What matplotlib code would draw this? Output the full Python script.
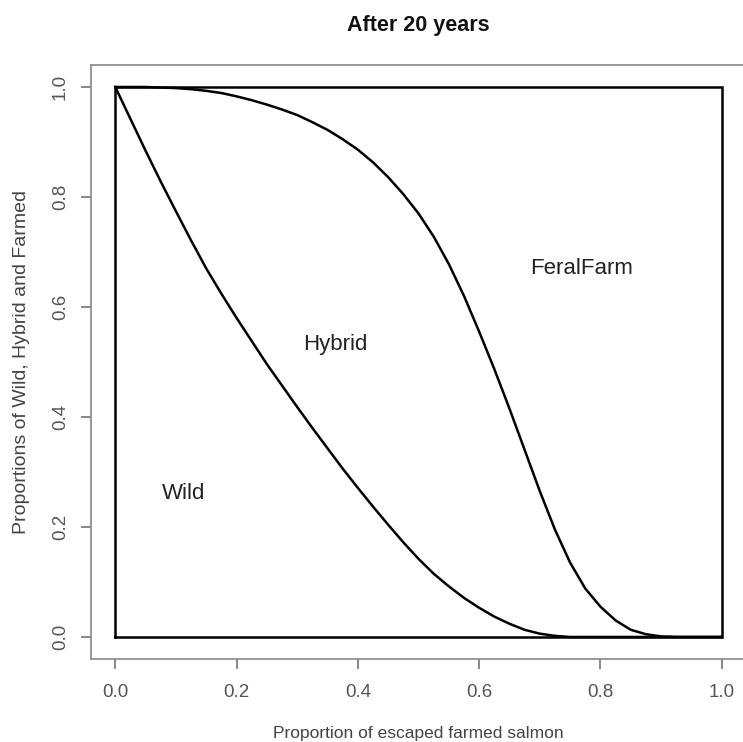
import matplotlib
matplotlib.use("Agg")
import matplotlib.pyplot as plt

# Data
x_vals = [0.0, 0.025, 0.05, 0.075, 0.10, 0.125, 0.15, 0.175, 0.20, 0.225, 0.25,
          0.275, 0.30, 0.325, 0.35, 0.375, 0.40, 0.425, 0.45, 0.475, 0.50,
          0.525, 0.55, 0.575, 0.60, 0.625, 0.65, 0.675, 0.70, 0.725, 0.75,
          0.775, 0.80, 0.825, 0.85, 0.875, 0.90, 0.925, 0.95, 1.0]
wild_upper = [1.0, 0.942, 0.884, 0.828, 0.774, 0.721, 0.670, 0.624, 0.580, 0.538, 0.496,
              0.457, 0.418, 0.380, 0.343, 0.306, 0.271, 0.237, 0.204, 0.172, 0.142,
              0.115, 0.092, 0.071, 0.053, 0.037, 0.024, 0.013, 0.006, 0.002, 0.0,
              0.0, 0.0, 0.0, 0.0, 0.0, 0.0, 0.0, 0.0, 0.0]
hybrid_upper = [1.0, 1.0, 1.0, 0.999, 0.998, 0.996, 0.993, 0.989, 0.983, 0.976, 0.968,
                0.959, 0.949, 0.936, 0.922, 0.905, 0.886, 0.863, 0.836, 0.805, 0.770,
                0.728, 0.678, 0.620, 0.555, 0.487, 0.415, 0.340, 0.265, 0.195, 0.135,
                0.088, 0.055, 0.030, 0.013, 0.005, 0.001, 0.0, 0.0, 0.0]

title = "After 20 years"
xlabel = "Proportion of escaped farmed salmon"
ylabel = "Proportions of Wild, Hybrid and Farmed"
ticks = [0.0, 0.2, 0.4, 0.6, 0.8, 1.0]
tick_labels = ["0.0", "0.2", "0.4", "0.6", "0.8", "1.0"]
region_labels = ["Wild", "Hybrid", "FeralFarm"]
region_pos = [(0.112, 0.260), (0.362, 0.532), (0.768, 0.670)]

plt.rcParams['font.family'] = ['Liberation Sans', 'DejaVu Sans']

fig = plt.figure(figsize=(7.43, 7.42), dpi=100)
ax = fig.add_axes([0.1225, 0.1119, 0.8816, 0.8005])
ax.set_xlim(-0.04, 1.04)
ax.set_ylim(-0.04, 1.04)

# inner unit box
ax.plot([0, 1, 1, 0, 0], [0, 0, 1, 1, 0], color="black", lw=1.8, solid_joinstyle="miter")
ax.plot(x_vals, wild_upper, color="black", lw=1.8)
ax.plot(x_vals, hybrid_upper, color="black", lw=1.8)

for lab, (tx, ty) in zip(region_labels, region_pos):
    ax.text(tx, ty, lab, ha="center", va="center", fontsize=16, color="#222222")

for s in ax.spines.values():
    s.set_color("#888888")
    s.set_linewidth(1.2)

ax.set_xticks(ticks)
ax.set_xticklabels(tick_labels)
ax.set_yticks(ticks)
ax.set_yticklabels(tick_labels, rotation=90, va="center")
ax.tick_params(direction="out", length=7, width=1.1, color="#666666",
               labelcolor="#555555", labelsize=13.5, pad=11)
ax.tick_params(axis="y", pad=9)

ax.set_xlabel(xlabel, fontsize=12.5, color="#444444", labelpad=18)
ax.set_ylabel(ylabel, fontsize=14, color="#444444", labelpad=16)
fig.text(0.563, 0.966, title, ha="center", va="center", fontsize=15.5,
         fontweight="bold", color="#111111")

fig.savefig("out.png", dpi=100)
